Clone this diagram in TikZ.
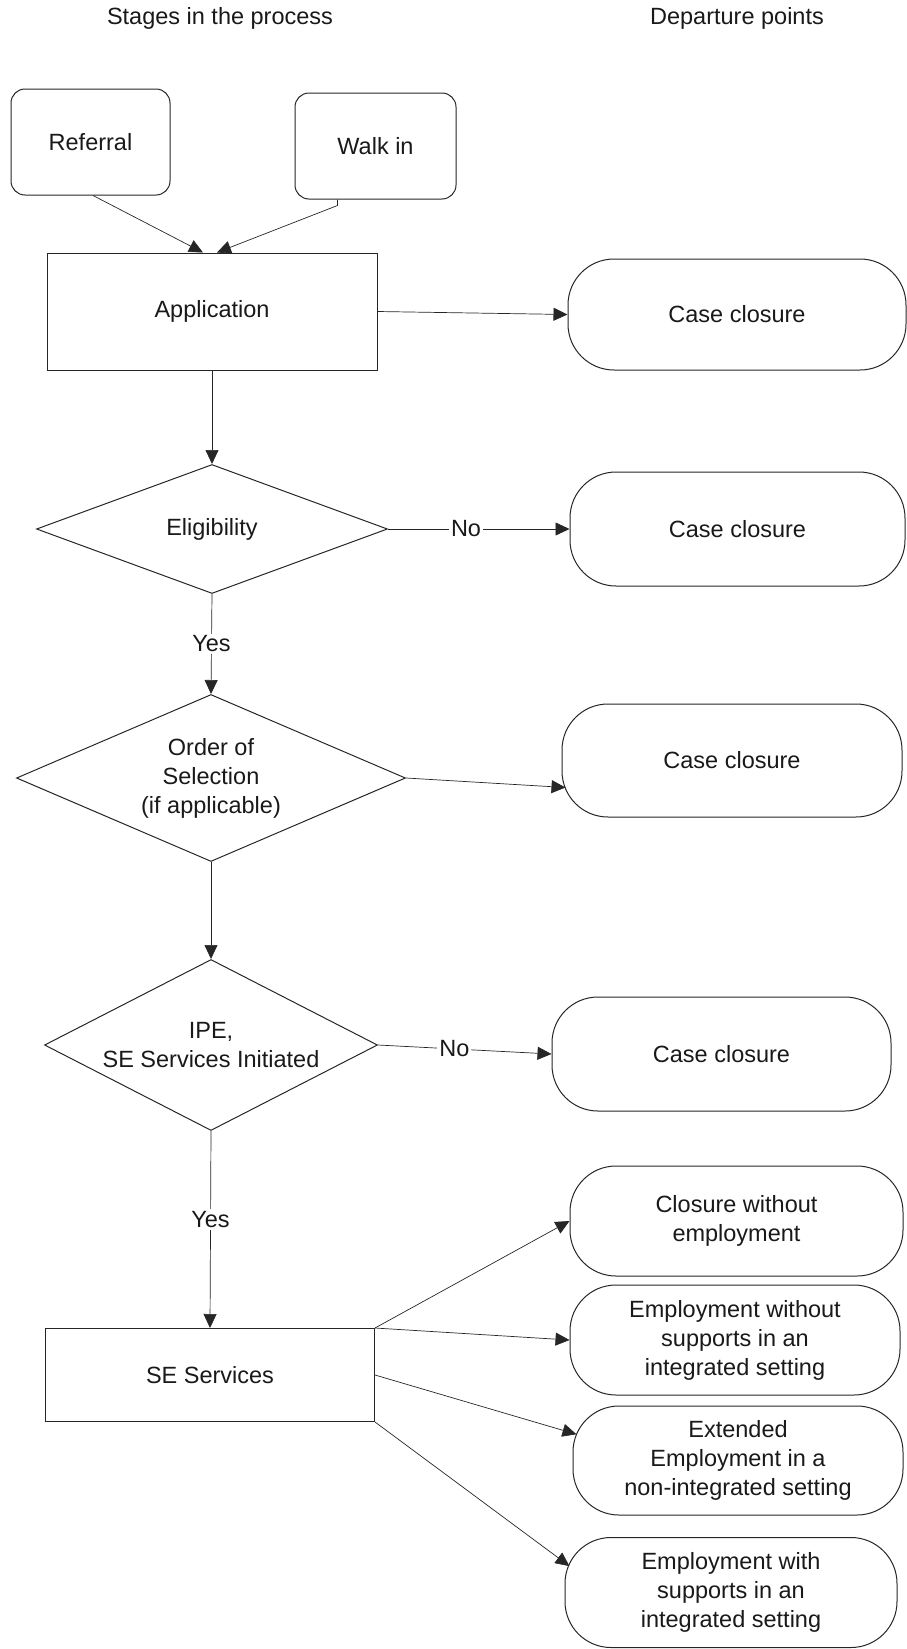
\documentclass[tikz,border=0pt]{standalone}
\usepackage{fontspec}
\setmainfont{Liberation Sans}
\usetikzlibrary{shapes.geometric,arrows.meta}

\begin{document}
\begin{tikzpicture}[x=1pt,y=-1pt,
		every node/.style={font=\fontsize{23.5}{29}\selectfont,text=black!90},
		box/.style={draw=black!85,line width=1pt,rectangle,inner sep=0pt},
		source/.style={box,rounded corners=14pt},
		decision/.style={box,diamond,align=center},
		closure/.style={box,rounded corners=46pt,align=center},
		arr/.style={draw=black!85,line width=0.7pt,-{Triangle[length=14pt,width=13pt]}},
		lbl/.style={fill=white,inner sep=2pt}]
		\useasboundingbox (0,0) rectangle (907,1649);
		% column titles
		\node at (220,18){Stages in the process};
		\node at (737,18){Departure points};
		% stages
		\node[source,minimum width=159pt,minimum height=106pt] (referral) at (90.5,142){Referral};
		\node[source,minimum width=161pt,minimum height=106pt] (walkin) at (375.5,146){Walk in};
		\node[box,minimum width=330pt,minimum height=117pt] (application) at (212,311.5){Application};
		\node[decision,aspect=2.7,minimum width=351pt,minimum height=129pt] (eligibility) at (212,529){Eligibility};
		\node[decision,aspect=2.3,minimum width=389pt,minimum height=167pt] (order) at (211,778){Order of\\Selection\\(if applicable)};
		\node[decision,aspect=1.95,minimum width=333pt,minimum height=171pt] (ipe) at (211,1045){IPE,\\SE Services Initiated};
		\node[box,minimum width=329pt,minimum height=93pt] (services) at (210,1375){SE Services};
		% departure points
		\node[closure,minimum width=338pt,minimum height=111pt] (close1) at (737,314.5){Case closure};
		\node[closure,minimum width=335pt,minimum height=114pt] (close2) at (737.5,529){Case closure};
		\node[closure,minimum width=340pt,minimum height=113pt] (close3) at (732,760.5){Case closure};
		\node[closure,minimum width=339pt,minimum height=114pt] (close4) at (721.5,1054){Case closure};
		\node[closure,minimum width=333pt,minimum height=110pt] (out1) at (736.5,1221){Closure without\\employment};
		\node[closure,minimum width=330pt,minimum height=110pt] (out2) at (735,1340){Employment without\\supports in an\\integrated setting};
		\node[closure,minimum width=330pt,minimum height=109pt] (out3) at (738,1460.5){Extended\\Employment in a\\non-integrated setting};
		\node[closure,minimum width=332pt,minimum height=110pt] (out4) at (731,1592.5){Employment with\\supports in an\\integrated setting};
		% connectors
		\draw[arr] ([xshift=2.5pt]referral.south) -- ([xshift=-9pt]application.north);
		\draw[arr] ([xshift=-38pt]walkin.south) -- ++(0,6) -- ([xshift=5pt]application.north);
		\draw[arr] (application.east) -- (close1.west);
		\draw[arr] (application.south) -- (eligibility.north);
		\draw[arr] (eligibility.east) -- node[lbl,pos=.43]{No} (close2.west);
		\draw[arr] (eligibility.south) -- node[lbl]{Yes} (order.north);
		\draw[arr] (order.east) -- ([xshift=4pt]close3.189);
		\draw[arr] (order.south) -- (ipe.north);
		\draw[arr] (ipe.east) -- node[lbl,pos=.44]{No} (close4.west);
		\draw[arr] (ipe.south) -- node[lbl,pos=.45]{Yes} (services.north);
		\draw[arr] (services.north east) -- (out1.west);
		\draw[arr] (services.north east) -- (out2.west);
		\draw[arr] (services.east) -- ([xshift=4pt]out3.171);
		\draw[arr] (services.south east) -- ([xshift=5pt]out4.171);
		\end{tikzpicture}
\end{document}
